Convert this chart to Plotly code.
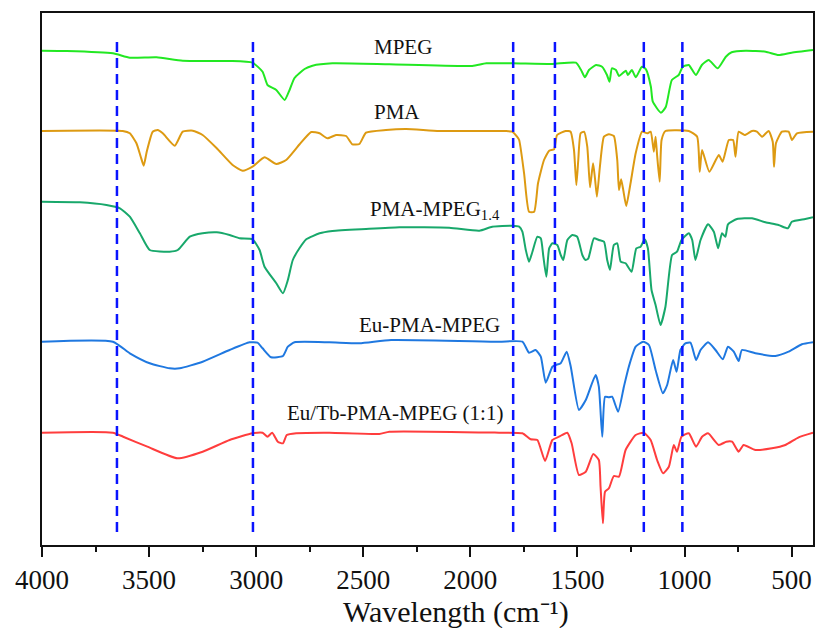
import plotly.graph_objects as go

# FTIR spectra, stacked with vertical offsets (arbitrary transmittance units)
mpeg_wn = [4000, 3885, 3669, 3590, 3465, 3343, 3124, 3017, 2970, 2947, 2906, 2867, 2844, 2821,
           2774, 2737, 2644, 2378, 1991, 1926, 1805, 1618, 1507, 1483, 1465, 1446, 1413, 1385,
           1362, 1350, 1339, 1320, 1306, 1274, 1264, 1246, 1227, 1199, 1180, 1157, 1148, 1110,
           1087, 1059, 1027, 1008, 980, 947, 919, 887, 845, 807, 780, 714, 621, 561, 500, 400]
mpeg_t = [494.3, 494.0, 491.7, 487.3, 487.7, 484.3, 484.0, 482.3, 473.3, 460.0, 455.0, 445.0, 455.0, 467.0,
          476.0, 479.3, 481.7, 480.7, 479.0, 481.7, 481.7, 481.0, 482.3, 475.0, 467.7, 475.0, 480.0, 478.3,
          470.0, 463.3, 476.7, 475.0, 469.0, 474.3, 470.0, 475.0, 467.7, 478.3, 475.7, 458.3, 443.3, 432.3,
          438.3, 465.0, 470.0, 478.3, 480.0, 470.0, 480.0, 485.0, 476.7, 488.3, 492.7, 494.3, 493.3, 490.0, 492.3, 495.0]

pma_wn = [4000, 3623, 3590, 3559, 3539, 3525, 3511, 3483, 3460, 3436, 3380, 3343, 3296, 3250, 3184,
          3110, 3063, 3017, 2961, 2906, 2860, 2798, 2743, 2704, 2667, 2627, 2580, 2551, 2518, 2487,
          2394, 2300, 2145, 1834, 1805, 1782, 1772, 1749, 1726, 1702, 1684, 1656, 1632, 1609, 1595,
          1555, 1532, 1516, 1505, 1496, 1485, 1469, 1454, 1441, 1427, 1418, 1409, 1395, 1376, 1353,
          1330, 1314, 1306, 1296, 1286, 1272, 1252, 1228, 1198, 1174, 1158, 1143, 1135, 1128, 1116,
          1107, 1089, 980, 941, 929, 918, 884, 840, 822, 793, 773, 762, 747, 719, 685, 662, 638, 607,
          588, 582, 573, 545, 514, 498, 475, 400]
pma_t = [414.0, 414.0, 411.7, 401.7, 388.3, 379.3, 393.3, 413.3, 415.0, 411.7, 399.3, 413.3, 414.3, 410.0, 396.7,
         380.0, 374.3, 378.3, 387.7, 381.0, 385.0, 400.5, 413.0, 411.7, 406.7, 410.0, 409.0, 400.7, 401.0, 412.3,
         415.0, 416.0, 414.0, 414.0, 413.3, 408.3, 405.0, 371.7, 333.3, 333.3, 361.7, 385.0, 394.3, 395.7, 410.0,
         414.0, 413.3, 395.0, 360.0, 385.0, 411.7, 413.3, 398.3, 357.7, 381.7, 366.7, 348.3, 378.3, 408.3, 410.7,
         409.0, 385.0, 355.0, 365.7, 355.0, 339.0, 361.7, 391.7, 413.3, 411.7, 413.3, 393.3, 408.3, 390.0, 363.3,
         405.0, 414.0, 414.0, 408.3, 373.3, 395.0, 373.3, 390.0, 383.3, 405.0, 405.0, 388.3, 413.3, 410.0, 414.0, 413.3, 408.3, 414.0,
         403.3, 378.3, 401.7, 413.3, 413.3, 405.0, 411.7, 413.3]

pmampeg_wn = [4000, 3823, 3699, 3636, 3590, 3543, 3497, 3404, 3366, 3310, 3250, 3184, 3124, 3077, 3017,
              2984, 2961, 2906, 2875, 2852, 2829, 2798, 2766, 2704, 2644, 2487, 2331, 2098, 1958, 1898,
              1805, 1772, 1757, 1741, 1726, 1710, 1687, 1671, 1659, 1645, 1632, 1617, 1594, 1578, 1566,
              1547, 1524, 1501, 1477, 1462, 1449, 1423, 1400, 1376, 1361, 1348, 1330, 1314, 1298, 1275,
              1247, 1225, 1205, 1186, 1171, 1154, 1135, 1112, 1089, 1058, 1035, 1014, 980, 964, 949, 925,
              890, 863, 843, 825, 809, 797, 755, 685, 622, 561, 517, 499, 436, 400]
pmampeg_t = [343.3, 342.7, 340.0, 336.7, 328.3, 311.7, 295.0, 293.3, 295.0, 308.3, 311.7, 312.7, 310.0, 306.7, 305.7,
             295.0, 278.3, 261.7, 251.7, 265.0, 285.0, 296.7, 305.7, 311.7, 314.0, 316.0, 317.7, 317.3, 314.3, 318.3,
             319.3, 318.3, 313.3, 295.0, 283.3, 293.3, 308.3, 306.7, 288.3, 268.3, 296.7, 301.7, 300.0, 290.0, 285.0,
             305.0, 310.0, 308.3, 290.0, 285.0, 286.7, 306.7, 305.0, 303.3, 285.0, 275.0, 300.0, 301.7, 283.3, 281.7,
             273.3, 296.7, 298.3, 305.7, 296.7, 255.0, 240.0, 220.0, 238.3, 290.0, 293.3, 305.0, 311.7, 305.0, 285.0, 305.0,
             320.7, 313.3, 296.7, 311.7, 308.3, 320.7, 326.0, 326.7, 322.7, 320.0, 316.7, 323.3, 326.0, 327.7]

eu_wn = [4000, 3669, 3590, 3497, 3404, 3357, 3250, 3124, 3031, 2994, 2970, 2930, 2875, 2852, 2821,
         2658, 2518, 2370, 1866, 1757, 1726, 1695, 1671, 1648, 1617, 1601, 1578, 1550, 1531, 1493,
         1461, 1415, 1400, 1384, 1371, 1353, 1338, 1310, 1283, 1260, 1228, 1193, 1166, 1135, 1101,
         1081, 1053, 1037, 1019, 996, 972, 946, 925, 890, 855, 821, 797, 770, 747, 732, 669, 576,
         514, 452, 400]
eu_t = [203.3, 203.3, 191.7, 181.7, 176.7, 176.7, 183.3, 195.0, 202.7, 202.3, 196.7, 187.7, 189.0, 198.3, 202.7,
        202.7, 201.7, 205.0, 203.3, 203.3, 192.3, 195.0, 188.3, 162.3, 178.3, 180.0, 181.7, 193.3, 178.3, 135.0,
        145.0, 170.0, 158.3, 108.3, 148.3, 147.7, 148.3, 133.3, 158.3, 178.3, 198.3, 203.3, 200.0, 175.0, 151.7,
        160.0, 185.0, 173.3, 195.0, 201.7, 202.3, 185.0, 195.0, 202.7, 195.0, 185.7, 198.3, 193.3, 184.0, 195.0, 191.7, 189.0,
        193.3, 200.7, 202.7]

eutb_wn = [4000, 3669, 3621, 3508, 3368, 3250, 3124, 3017, 2970, 2947, 2925, 2899, 2875, 2857, 2813,
           2658, 2425, 2378, 1866, 1757, 1718, 1687, 1651, 1617, 1586, 1547, 1527, 1493, 1461, 1426,
           1400, 1392, 1381, 1371, 1353, 1330, 1306, 1275, 1228, 1190, 1158, 1128, 1100, 1073, 1050,
           1035, 1014, 980, 946, 918, 890, 840, 805, 778, 747, 724, 669, 592, 529, 467, 400]
eutb_t = [112.3, 112.3, 108.3, 98.3, 86.7, 93.3, 105.0, 111.7, 112.3, 108.3, 112.3, 103.3, 101.7, 110.0, 111.7,
          112.3, 111.0, 113.3, 112.3, 111.7, 105.7, 105.0, 84.0, 105.0, 108.3, 112.3, 101.7, 70.0, 73.3, 91.0,
          85.0, 58.3, 21.7, 53.3, 56.7, 69.0, 68.3, 95.0, 110.0, 112.3, 105.0, 85.0, 71.7, 78.3, 100.0,
          93.3, 108.3, 111.7, 98.3, 108.3, 111.7, 100.0, 103.3, 103.3, 93.3, 100.0, 95.0, 96.7, 100.0, 107.7, 112.3]

series_names = ["MPEG", "PMA", "PMA-MPEG<sub>1.4</sub>", "Eu-PMA-MPEG", "Eu/Tb-PMA-MPEG (1:1)"]
series_wn = [mpeg_wn, pma_wn, pmampeg_wn, eu_wn, eutb_wn]
series_t = [mpeg_t, pma_t, pmampeg_t, eu_t, eutb_t]
series_colors = ["#22e822", "#dd9a12", "#18a86b", "#1f78e0", "#ff3d3d"]

# label anchors (wavenumber of left edge, vertical level)
label_wn = [2457, 2457, 2476, 2527, 2867]
label_t = [498, 433, 335, 220, 132]

# band positions highlighted with dashed guides
guide_wn = [3650, 3015, 1800, 1605, 1190, 1010]

tick_vals = [4000, 3500, 3000, 2500, 2000, 1500, 1000, 500]

serif = "Liberation Serif"

fig = go.Figure()
for name, wn, t, c in zip(series_names, series_wn, series_t, series_colors):
    fig.add_trace(go.Scatter(x=wn, y=t, mode="lines", name=name,
                             line=dict(color=c, width=2, shape="spline", smoothing=0.5),
                             showlegend=False))

for g in guide_wn:
    fig.add_shape(type="line", xref="x", yref="y", x0=g, x1=g, y0=13, y1=505,
                  line=dict(color="#0a14ff", width=2.5, dash="10px,6px"), layer="above")

for name, lx, ly in zip(series_names, label_wn, label_t):
    fig.add_annotation(x=lx, y=ly, xref="x", yref="y", text=name, showarrow=False,
                       xanchor="left", yanchor="middle",
                       font=dict(family=serif, size=21, color="#111111"))

fig.add_annotation(x=0.537, y=-0.125, xref="paper", yref="paper",
                   text="Wavelength (cm\u207b\u00b9)", showarrow=False,
                   xanchor="center", yanchor="middle",
                   font=dict(family=serif, size=30, color="#111111"))

fig.update_xaxes(range=[4000, 400], tickvals=tick_vals, ticks="outside", ticklen=10, tickwidth=2,
                 tickcolor="#111111", showline=True, linecolor="#111111", linewidth=2, mirror=True,
                 showgrid=False, zeroline=False,
                 tickfont=dict(family=serif, size=27, color="#111111"),
                 minor=dict(dtick=250, tick0=0, ticks="outside", ticklen=5, tickwidth=2, tickcolor="#111111"))
fig.update_yaxes(range=[0, 532], showticklabels=False, ticks="", showline=True, linecolor="#111111",
                 linewidth=2, mirror=True, showgrid=False, zeroline=False)

fig.update_layout(width=816, height=628, margin=dict(l=42, r=1, t=13, b=83),
                  plot_bgcolor="white", paper_bgcolor="white")

fig.write_html("out.html")
